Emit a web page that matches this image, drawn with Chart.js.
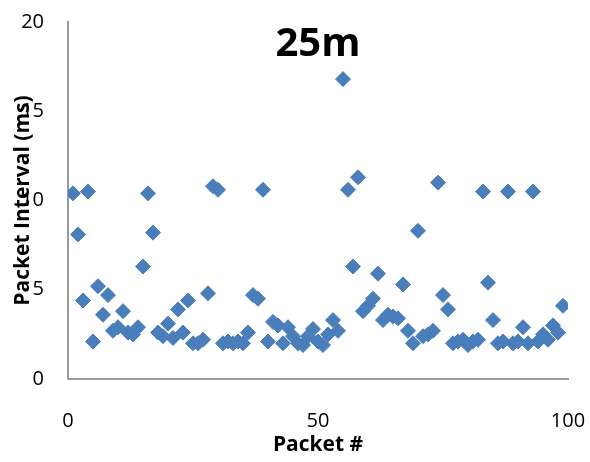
<!DOCTYPE html>
<html>
<head>
<meta charset="utf-8">
<script src="https://cdn.jsdelivr.net/npm/chart.js@4.4.1/dist/chart.umd.min.js"></script>
<style>
  html, body { margin: 0; padding: 0; background: #ffffff; }
  #wrap { width: 590px; height: 462px; position: relative; }
</style>
</head>
<body>
<div id="wrap"><canvas id="c" width="590" height="462"></canvas></div>
<script>
const chartTitle = "25m";
const xAxisTitle = "Packet #";
const yAxisTitle = "Packet Interval (ms)";
const xTicks = [0, 50, 100];
const yTicks = [0, 5, 10, 15, 20];
const packetNumbers = [
  1,2,3,4,5,6,7,8,9,10,11,12,13,14,15,16,17,18,19,20,
  21,22,23,24,25,26,27,28,29,30,31,32,33,34,35,36,37,38,39,40,
  41,42,43,44,45,46,47,48,49,50,51,52,53,54,55,56,57,58,59,60,
  61,62,63,64,65,66,67,68,69,70,71,72,73,74,75,76,77,78,79,80,
  81,82,83,84,85,86,87,88,89,90,91,92,93,94,95,96,97,98,99
];
const packetIntervals = [
  10.4, 8.1, 4.4, 10.5, 2.1, 5.2, 3.6, 4.7, 2.7, 2.9,
  3.8, 2.6, 2.5, 2.9, 6.3, 10.4, 8.2, 2.6, 2.4, 3.1,
  2.3, 3.9, 2.6, 4.4, 2.0, 2.0, 2.2, 4.8, 10.8, 10.6,
  2.0, 2.1, 2.0, 2.1, 2.0, 2.6, 4.7, 4.5, 10.6, 2.1,
  3.2, 3.0, 2.0, 2.9, 2.4, 2.0, 1.9, 2.4, 2.8, 2.1,
  1.9, 2.5, 3.3, 2.7, 16.8, 10.6, 6.3, 11.3, 3.8, 4.1,
  4.5, 5.9, 3.3, 3.6, 3.5, 3.4, 5.3, 2.7, 2.0, 8.3,
  2.4, 2.5, 2.7, 11.0, 4.7, 3.9, 2.0, 2.1, 2.2, 1.9,
  2.1, 2.2, 10.5, 5.4, 3.3, 2.0, 2.1, 10.5, 2.0, 2.1,
  2.9, 2.0, 10.5, 2.1, 2.5, 2.2, 3.0, 2.6, 4.1
];

const points = packetNumbers.map((x, i) => ({ x: x, y: packetIntervals[i] }));
const FONT = "'Open Sans', 'Liberation Sans', sans-serif";

const titlePlugin = {
  id: 'insideTitle',
  afterDraw(chart) {
    const ctx = chart.ctx;
    const a = chart.chartArea;
    ctx.save();
    ctx.font = "bold 40px " + FONT;
    ctx.fillStyle = '#000000';
    ctx.textAlign = 'center';
    ctx.textBaseline = 'alphabetic';
    ctx.fillText(chartTitle, (a.left + a.right) / 2, 56);
    ctx.restore();
  }
};

new Chart(document.getElementById('c'), {
  type: 'scatter',
  data: {
    datasets: [{
      data: points,
      pointStyle: 'rectRot',
      pointRadius: 7.5,
      pointHoverRadius: 7.5,
      backgroundColor: '#4A7EBB',
      borderColor: '#4A7EBB',
      borderWidth: 1
    }]
  },
  options: {
    responsive: false,
    animation: false,
    events: [],
    layout: { padding: { top: 22, right: 22, bottom: 0, left: 0 } },
    plugins: { legend: { display: false }, tooltip: { enabled: false }, title: { display: false } },
    scales: {
      x: {
        type: 'linear',
        min: 0, max: 100,
        afterFit(s) { s.height = 83; s.paddingLeft = 0; s.paddingRight = 0; },
        afterBuildTicks(s) { s.ticks = xTicks.map(v => ({ value: v })); },
        grid: { display: false, drawTicks: false },
        border: { display: true, color: '#9a9a9a', width: 2 },
        ticks: { padding: 30, color: '#000', font: { family: FONT, size: 20 }, maxRotation: 0 },
        title: { display: true, text: xAxisTitle, color: '#000', font: { family: FONT, size: 21, weight: 'bold' }, padding: { top: 0, bottom: 4 } }
      },
      y: {
        type: 'linear',
        min: 0, max: 20,
        afterFit(s) { s.width = 68; s.paddingTop = 0; s.paddingBottom = 0; },
        afterBuildTicks(s) { s.ticks = yTicks.map(v => ({ value: v })); },
        grid: { display: false, drawTicks: false },
        border: { display: true, color: '#9a9a9a', width: 2 },
        ticks: { padding: 24, color: '#000', font: { family: FONT, size: 20 } },
        title: { display: true, text: yAxisTitle, color: '#000', font: { family: FONT, size: 21, weight: 'bold' }, padding: { top: 10, bottom: 0 } }
      }
    }
  },
  plugins: [titlePlugin]
});
</script>
</body>
</html>
